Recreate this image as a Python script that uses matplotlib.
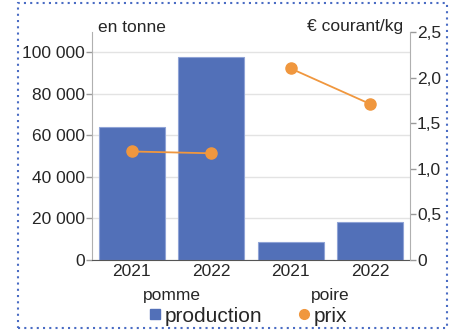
import matplotlib.pyplot as plt
from matplotlib.lines import Line2D
from matplotlib.patches import Rectangle
from matplotlib.ticker import FuncFormatter

plt.rcParams['font.family'] = ['Liberation Sans', 'DejaVu Sans']

fruits = ['pomme', 'poire']
years = ['2021', '2022']
production = [64000, 97600, 8650, 18300]   # tonnes
prix = [1.19, 1.17, 2.10, 1.71]            # EUR courant/kg

blue = '#5270b8'
orange = '#f0973e'
txt = '#262626'

fig = plt.figure(figsize=(4.56, 3.34), dpi=100)
ax = fig.add_axes([92 / 456, 1 - 260 / 334, 318 / 456, 228 / 334])
ax2 = ax.twinx()

x = list(range(len(production)))
ax.bar(x, production, width=0.83, color=blue, edgecolor='#8fa3d6', linewidth=0.8, zorder=2)
ax.set_xlim(-0.5, 3.5)
ax.set_ylim(0, 109600)
ax.set_yticks([0, 20000, 40000, 60000, 80000, 100000])
ax.yaxis.set_major_formatter(FuncFormatter(lambda v, p: f'{int(v):,}'.replace(',', ' ')))
ax.grid(axis='y', color='#e3e3e3', linewidth=1, zorder=0)
ax.set_axisbelow(True)

# price lines, one per fruit
for i in range(len(fruits)):
    xs = x[2 * i:2 * i + 2]
    ax2.plot(xs, prix[2 * i:2 * i + 2], color=orange, linewidth=1.3, marker='o',
             markersize=8, zorder=3)
ax2.set_ylim(0, 2.5)
ax2.set_yticks([0, 0.5, 1.0, 1.5, 2.0, 2.5])
ax2.yaxis.set_major_formatter(FuncFormatter(lambda v, p: '0' if v == 0 else f'{v:.1f}'.replace('.', ',')))

ax.set_xticks(x)
ax.set_xticklabels(years * 2)

for a in (ax, ax2):
    a.spines['top'].set_visible(False)
    a.tick_params(labelsize=12.5, labelcolor=txt, color='#9a9a9a', length=4, width=1, pad=1)
ax.spines['left'].set_color('#b0b0b0')
ax2.spines['right'].set_color('#b0b0b0')
ax.spines['right'].set_visible(False)
ax2.spines['left'].set_visible(False)
ax.spines['bottom'].set_color('#555555')
ax2.spines['bottom'].set_visible(False)
ax.tick_params(axis='x', length=0, pad=3)

for i, f in enumerate(fruits):
    ax.text(2 * i + 0.5, -0.155, f, transform=ax.get_xaxis_transform(),
            ha='center', va='center', fontsize=12.5, color=txt)

fig.text(98 / 456, 1 - 27 / 334, 'en tonne', ha='left', va='center', fontsize=12.5, color=txt)
fig.text(403 / 456, 1 - 27 / 334, '€ courant/kg', ha='right', va='center', fontsize=12.5, color=txt)

handles = [Line2D([], [], linestyle='none', marker='s', markersize=7, color=blue),
           Line2D([], [], linestyle='none', marker='o', markersize=7, color=orange)]
fig.legend(handles, ['production', 'prix'], loc='center', bbox_to_anchor=(247 / 456, 1 - 316 / 334),
           ncol=2, frameon=False, fontsize=15, handletextpad=0.05, columnspacing=1.6,
           handlelength=0.8, labelcolor=txt)

fig.patches.append(Rectangle((18 / 456, 1 - 328 / 334), 429 / 456, 325 / 334, transform=fig.transFigure,
                             fill=False, edgecolor='#4a6cc4', linestyle=(0, (1, 2)), linewidth=1.5))

fig.savefig('out.png', dpi=100)
